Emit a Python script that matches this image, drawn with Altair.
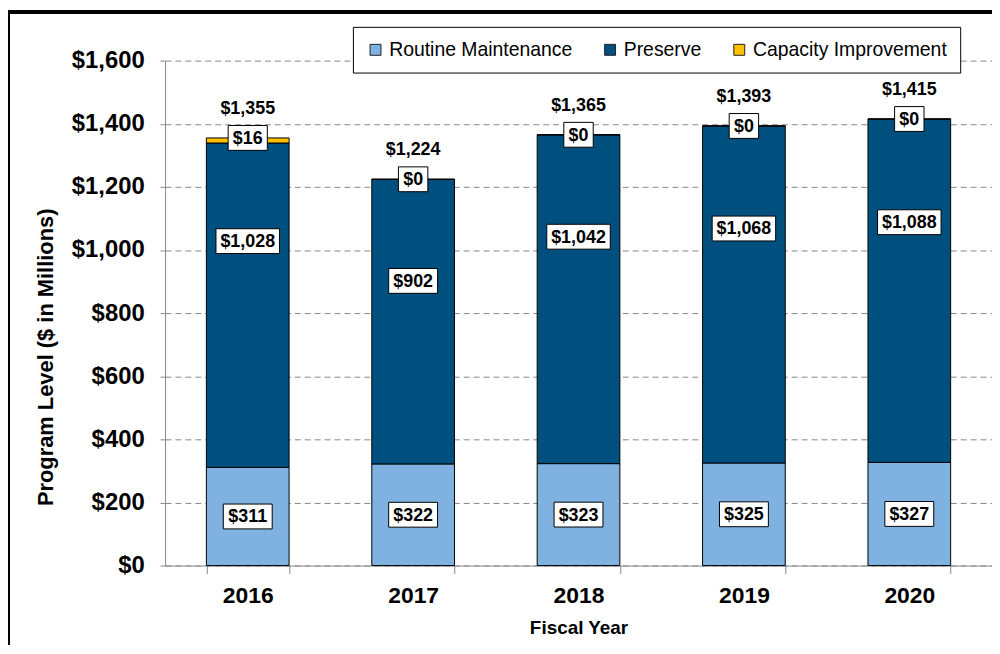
import altair as alt
import pandas as pd

# ---- data ----
years = ["2016", "2017", "2018", "2019", "2020"]
routine = [311, 322, 323, 325, 327]
preserve = [1028, 902, 1042, 1068, 1088]
capacity = [16, 0, 0, 0, 0]
totals = [1355, 1224, 1365, 1393, 1415]
categories = ["Routine Maintenance", "Preserve", "Capacity Improvement"]
colors = ["#7FB2E1", "#00507F", "#FFC000"]
y_ticks = [0, 200, 400, 600, 800, 1000, 1200, 1400, 1600]

rows = []
for i, yr in enumerate(years):
    for j, (cat, vals) in enumerate(zip(categories, [routine, preserve, capacity])):
        rows.append({"year": yr, "category": cat, "value": vals[i], "ord": j})
long_df = pd.DataFrame(rows)
wide_df = pd.DataFrame({"year": years, "routine": routine, "preserve": preserve,
                        "capacity": capacity, "total": totals})

FONT = "Liberation Sans"
W, H = 832, 508
PAD = {"left": 158, "top": 51, "right": 0, "bottom": 80}

yscale = alt.Scale(domain=[0, 1600], nice=False, zero=True)
xscale = alt.Scale(paddingInner=0.5, paddingOuter=0.25)
XTITLE = "Fiscal Year"
YTITLE = "Program Level ($ in Millions)"

x_axis = alt.Axis(labelAngle=0, labelFont=FONT, labelFontSize=23, labelFontWeight="bold",
                  labelColor="black", tickBand="extent", tickSize=8, tickColor="#888888",
                  domainColor="#888888", grid=False, labelPadding=11,
                  titleFont=FONT, titleFontSize=19, titleFontWeight="bold",
                  titleColor="black", titlePadding=11)
y_axis = alt.Axis(values=y_ticks, format="$,d", labelFont=FONT, labelFontSize=24,
                  labelFontWeight="bold", labelColor="black", labelPadding=16, tickSize=5,
                  tickColor="#888888", domainColor="#888888", gridColor="#888888",
                  gridDash=[6, 4], gridWidth=1, titleFont=FONT, titleFontSize=22,
                  titleFontWeight="bold", titleColor="black", titlePadding=14,
                  titleY=298)


def X():
    return alt.X("year:N", sort=years, scale=xscale, axis=x_axis, title=XTITLE)


def Y(field):
    return alt.Y(field, scale=yscale, axis=y_axis, title=YTITLE)


bars = alt.Chart(long_df).mark_bar(stroke="black", strokeWidth=1).encode(
    x=X(),
    y=alt.Y("value:Q", stack="zero", scale=yscale, axis=y_axis, title=YTITLE),
    color=alt.Color("category:N", sort=categories,
                    scale=alt.Scale(domain=categories, range=colors),
                    legend=alt.Legend(title=None, orient="none", legendX=189, legendY=-34,
                                      direction="horizontal", labelFont=FONT,
                                      labelFontSize=19.5, labelColor="black", labelLimit=0,
                                      symbolType="square", symbolSize=121,
                                      symbolStrokeColor="#222222", symbolStrokeWidth=1,
                                      symbolOpacity=1, labelOffset=4, columnPadding=28,
                                      padding=13, strokeColor="black", fillColor="white")),
    order=alt.Order("ord:Q"),
)


def boxed_labels(field, ypos_expr):
    base = alt.Chart(wide_df).transform_calculate(
        ly=ypos_expr,
        label="'$' + format(datum.%s, ',')" % field,
    ).transform_calculate(
        bw="length(replace(datum.label, ',', '')) * 9.8 + (indexof(datum.label, ',') >= 0 ? 4.9 : 0) + 10"
    ).transform_calculate(
        hh="25 / datum.bw", sz="datum.bw * datum.bw"
    ).transform_calculate(
        shp="'M-1,' + (-datum.hh) + 'L1,' + (-datum.hh) + 'L1,' + datum.hh + 'L-1,' + datum.hh + 'Z'"
    )
    box = base.mark_point(filled=True, fill="white", stroke="black", strokeWidth=1,
                          opacity=1).encode(
        x=X(), y=Y("ly:Q"),
        shape=alt.Shape("shp:N", scale=None),
        size=alt.Size("sz:Q", scale=None),
    )
    txt = base.mark_text(font=FONT, fontSize=18, fontWeight="bold", color="black",
                         baseline="middle", dy=1).encode(
        x=X(), y=Y("ly:Q"), text="label:N")
    return [box, txt]


layers = [bars]
layers += boxed_labels("routine", "datum.routine / 2")
layers += boxed_labels("preserve", "datum.preserve")
layers += boxed_labels("capacity", "datum.total")

totals_txt = alt.Chart(wide_df).transform_calculate(
    label="'$' + format(datum.total, ',')"
).mark_text(font=FONT, fontSize=18, fontWeight="bold", color="black",
            baseline="middle", dy=-29).encode(x=X(), y=Y("total:Q"), text="label:N")
layers.append(totals_txt)

# frame lines of the original picture (top band and left edge)
frame_top = alt.Chart(alt.Data(values=[{}])).mark_rule(color="black", strokeWidth=4).encode(
    x=alt.value(-PAD["left"]), x2=alt.value(W), y=alt.value(-PAD["top"] + 2))
frame_left = alt.Chart(alt.Data(values=[{}])).mark_rule(color="black", strokeWidth=2).encode(
    x=alt.value(-PAD["left"] + 1), y=alt.value(-PAD["top"]), y2=alt.value(H + PAD["bottom"]))
layers += [frame_top, frame_left]

chart = alt.layer(*layers).properties(
    width=W, height=H, padding=PAD, autosize=alt.AutoSizeParams(type="none"),
    background="white",
).configure_view(stroke=None)

chart.save("out.html", embed_options={"renderer": "svg", "actions": False})
